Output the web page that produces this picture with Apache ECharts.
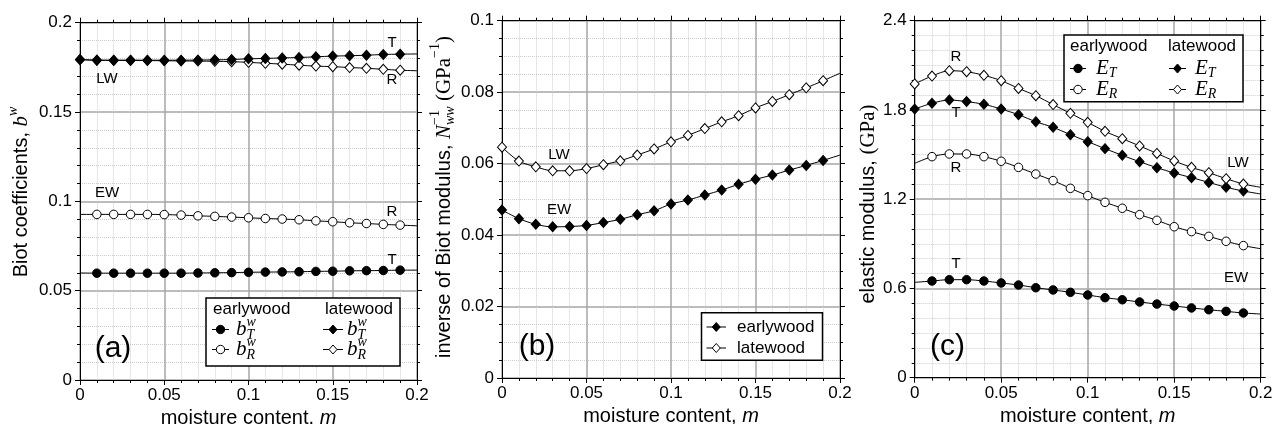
<!DOCTYPE html>
<html><head><meta charset="utf-8">
<script src="https://cdn.jsdelivr.net/npm/echarts@6/dist/echarts.min.js"></script>
<style>html,body{margin:0;padding:0;background:#fff}#c{width:1272px;height:424px}</style>
</head><body><div id="c"></div>
<script>
// ---------- data ----------
const moisture = [0,0.01,0.02,0.03,0.04,0.05,0.06,0.07,0.08,0.09,0.1,0.11,0.12,0.13,0.14,0.15,0.16,0.17,0.18,0.19,0.2];

// (a) Biot coefficients
const aEW_T = [0.0599,0.0598,0.0598,0.0598,0.0598,0.0598,0.0598,0.0599,0.0600,0.0601,0.0603,0.0604,0.0605,0.0606,0.0608,0.0609,0.0611,0.0612,0.0613,0.0615,0.0615];
const aEW_R = [0.0927,0.0927,0.0927,0.0927,0.0927,0.0926,0.0923,0.0919,0.0916,0.0912,0.0908,0.0904,0.0901,0.0897,0.0891,0.0886,0.0880,0.0876,0.0871,0.0867,0.0863];
const aLW_T = [0.1794,0.1790,0.1790,0.1790,0.1790,0.1790,0.1790,0.1791,0.1792,0.1794,0.1798,0.1800,0.1803,0.1805,0.1809,0.1813,0.1815,0.1818,0.1822,0.1824,0.1825];
const aLW_R = [0.1793,0.1790,0.1789,0.1789,0.1788,0.1787,0.1786,0.1785,0.1784,0.1782,0.1778,0.1773,0.1768,0.1762,0.1757,0.1754,0.1749,0.1745,0.1739,0.1734,0.1731];

// (b) inverse of Biot modulus
const bEW = [0.0470,0.0446,0.0430,0.0423,0.0424,0.0427,0.0435,0.0444,0.0457,0.0468,0.0487,0.0498,0.0512,0.0526,0.0542,0.0556,0.0568,0.0582,0.0595,0.0609,0.0624];
const bLW = [0.0646,0.0607,0.0591,0.0580,0.0580,0.0586,0.0597,0.0608,0.0624,0.0641,0.0661,0.0679,0.0698,0.0717,0.0734,0.0756,0.0774,0.0793,0.0812,0.0832,0.0853];

// (c) elastic modulus (GPa)
const cEW_T = [0.641,0.650,0.659,0.659,0.650,0.637,0.623,0.605,0.590,0.574,0.556,0.538,0.524,0.509,0.495,0.482,0.469,0.457,0.446,0.435,0.428];
const cEW_R = [1.441,1.486,1.504,1.504,1.486,1.455,1.414,1.369,1.325,1.273,1.224,1.179,1.139,1.096,1.058,1.015,0.982,0.950,0.917,0.888,0.867];
const cLW_T = [1.806,1.845,1.867,1.856,1.838,1.806,1.768,1.721,1.683,1.634,1.587,1.540,1.495,1.452,1.412,1.376,1.345,1.313,1.280,1.255,1.235];
const cLW_R = [1.975,2.028,2.064,2.057,2.033,1.997,1.945,1.896,1.836,1.777,1.717,1.656,1.607,1.558,1.508,1.457,1.414,1.378,1.338,1.302,1.280];

// tick labels
const xTickLabels = ['0','0.05','0.1','0.15','0.2'];
const yTickLabelsA = ['0','0.05','0.1','0.15','0.2'];
const yTickLabelsB = ['0','0.02','0.04','0.06','0.08','0.1'];
const yTickLabelsC = ['0','0.6','1.2','1.8','2.4'];

// ---------- layout / style ----------
const SANS = 'Liberation Sans', SERIF = 'Liberation Serif';
const grids = [
  {left:80, top:22.7, width:337, height:357.3},
  {left:502, top:20.7, width:338, height:357.3},
  {left:914.7, top:20.7, width:346, height:357}
];
const yCfg = [
  {min:0, max:0.2, interval:0.05, minor:5, labels:yTickLabelsA},
  {min:0, max:0.1, interval:0.02, minor:4, labels:yTickLabelsB},
  {min:0, max:2.4, interval:0.6, minor:6, labels:yTickLabelsC}
];

const ctx = document.createElement('canvas').getContext('2d');
function fontStr(it){ return (it.it?'italic ':'') + it.size + 'px "' + it.fam + '"'; }
function tw(it){ ctx.font = fontStr(it); return ctx.measureText(it.t).width; }

function txtEl(t, x, y, size, o) {
  o = o || {};
  return {type:'text', x:x, y:y, z:60, silent:true, style:{
    text:t, fontSize:size, fontFamily:o.fam||SANS, fontStyle:o.it?'italic':'normal', fontWeight:'normal',
    fill:'#000', textAlign:o.align||'center', textVerticalAlign:'middle'}};
}
// math-like text composed from parts; an array part = stacked scripts
function mathGroup(parts, x, y, rot, anchor) {
  let cx = 0; const kids = [];
  parts.forEach(p => {
    const items = Array.isArray(p) ? p : [p];
    let adv = 0;
    items.forEach(it => {
      kids.push(txtEl(it.t, cx, it.dy||0, it.size, {fam:it.fam, it:it.it, align:'left'}));
      adv = Math.max(adv, tw(it));
    });
    cx += adv;
  });
  const shift = anchor === 'center' ? -cx/2 : 0;
  kids.forEach(k => { k.x += shift; });
  return {type:'group', x:x, y:y, rotation:rot||0, z:60, children:kids};
}

const MAJOR = {show:true, lineStyle:{color:'#a6a6a6', width:1.5}};
const MINOR = {show:true, lineStyle:{color:'#cdcdcd', width:1, type:[1,1]}};

function xAxes(g) {
  const base = {type:'value', gridIndex:g, min:0, max:0.2, interval:0.05,
    axisLine:{show:true, onZero:false, lineStyle:{color:'#000', width:1}},
    axisTick:{show:true, inside:false, length:5, lineStyle:{color:'#000', width:1}},
    minorTick:{show:true, splitNumber:5, length:3, lineStyle:{color:'#000', width:1}}};
  return [
    Object.assign({}, base, {position:'bottom',
      axisLabel:{show:true, margin:7, fontSize:17, fontFamily:SANS, color:'#000',
        formatter:v => xTickLabels[Math.round(v/0.05)]},
      splitLine:MAJOR, minorSplitLine:MINOR,
      name:'moisture content, {i|m}', nameLocation:'middle', nameGap:23,
      nameTextStyle:{fontSize:20, fontFamily:SANS, color:'#000', verticalAlign:'top',
        rich:{i:{fontSize:20, fontFamily:SANS, fontStyle:'italic', color:'#000'}}}}),
    Object.assign({}, base, {position:'top', axisLabel:{show:false},
      splitLine:{show:false}, minorSplitLine:{show:false}})
  ];
}
function yAxes(g) {
  const c = yCfg[g];
  const base = {type:'value', gridIndex:g, min:c.min, max:c.max, interval:c.interval,
    axisLine:{show:true, onZero:false, lineStyle:{color:'#000', width:1}},
    axisTick:{show:true, inside:false, length:5, lineStyle:{color:'#000', width:1}},
    minorTick:{show:true, splitNumber:c.minor, length:3, lineStyle:{color:'#000', width:1}}};
  return [
    Object.assign({}, base, {position:'left',
      axisLabel:{show:true, margin:8, fontSize:17, fontFamily:SANS, color:'#000',
        formatter:v => c.labels[Math.round((v-c.min)/c.interval)]},
      splitLine:MAJOR, minorSplitLine:MINOR}),
    Object.assign({}, base, {position:'right', axisLabel:{show:false},
      splitLine:{show:false}, minorSplitLine:{show:false}})
  ];
}

function ser(g, name, arr, sym, fill, firstMarker, z) {
  return {type:'line', name:name, xAxisIndex:2*g, yAxisIndex:2*g, z:z,
    data: moisture.map((x,i) => ({value:[x, arr[i]], symbol:(i>=firstMarker && i<=19) ? sym : 'none'})),
    symbol:sym, symbolSize: sym==='diamond' ? [9,10] : 8.5, showAllSymbol:true, showSymbol:true,
    smooth:0.3, lineStyle:{color:'#000', width:1},
    itemStyle:{color:fill, borderColor:'#000', borderWidth:1, opacity:1},
    emphasis:{disabled:true}, silent:true, animation:false};
}

const series = [
  ser(0,'aEW_R',aEW_R,'circle','#fff',1,3),
  ser(0,'aEW_T',aEW_T,'circle','#000',1,3),
  ser(0,'aLW_R',aLW_R,'diamond','#fff',0,3),
  ser(0,'aLW_T',aLW_T,'diamond','#000',0,4),
  ser(1,'bEW',bEW,'diamond','#000',0,3),
  ser(1,'bLW',bLW,'diamond','#fff',0,3),
  ser(2,'cEW_T',cEW_T,'circle','#000',1,3),
  ser(2,'cEW_R',cEW_R,'circle','#fff',1,3),
  ser(2,'cLW_T',cLW_T,'diamond','#000',0,3),
  ser(2,'cLW_R',cLW_R,'diamond','#fff',0,3)
];

// ---------- graphic (titles, legends, annotations) ----------
const G = [];
const ROT = Math.PI/2;
// y-axis titles
G.push(mathGroup([
  {t:'Biot coefficients, ', size:20, fam:SANS},
  {t:'b', size:21, fam:SERIF, it:true},
  {t:'w', size:14, fam:SERIF, it:true, dy:-8}
], 21, 192, ROT, 'center'));
G.push(mathGroup([
  {t:'inverse of Biot modulus, ', size:20, fam:SANS},
  {t:'N', size:21, fam:SERIF, it:true},
  [{t:'ww', size:14, fam:SERIF, it:true, dy:6}, {t:'\u22121', size:14, fam:SERIF, dy:-9}],
  {t:' (GPa', size:21, fam:SERIF},
  {t:'\u22121', size:14, fam:SERIF, dy:-9},
  {t:')', size:21, fam:SERIF}
], 444, 197, ROT, 'center'));
G.push(mathGroup([
  {t:'elastic modulus, ', size:20, fam:SANS},
  {t:'(GPa)', size:21, fam:SERIF}
], 868, 204, ROT, 'center'));

// panel letters
G.push(txtEl('(a)', 113, 349, 30));
G.push(txtEl('(b)', 537, 347, 30));
G.push(txtEl('(c)', 947.5, 347, 30));

// curve annotations
[['LW',107,79],['T',392,43],['R',392,80],['EW',107,193],['R',392,212],['T',392,260],
 ['LW',559,155],['EW',559,210],
 ['R',956,57],['T',956,113],['R',956,168],['LW',1238,163],['T',956,264],['EW',1236,278]
].forEach(a => G.push(txtEl(a[0], a[1], a[2], 15)));

// legend helpers
function legSym(x0, x1, y, sym, fill) {
  const cx = (x0+x1)/2;
  const out = [{type:'line', z:60, silent:true, shape:{x1:x0, y1:y, x2:x1, y2:y}, style:{stroke:'#000', lineWidth:1}}];
  if (sym === 'circle') out.push({type:'circle', z:61, silent:true, shape:{cx:cx, cy:y, r:4.2}, style:{fill:fill, stroke:'#000', lineWidth:1}});
  else out.push({type:'polygon', z:61, silent:true, shape:{points:[[cx,y-4.5],[cx+4,y],[cx,y+4.5],[cx-4,y]]}, style:{fill:fill, stroke:'#000', lineWidth:1}});
  return out;
}
function box(x, y, w, h) {
  return {type:'rect', z:55, silent:true, shape:{x:x, y:y, width:w, height:h}, style:{fill:'#fff', stroke:'#000', lineWidth:1.5}};
}
function bw(sub) {
  return [{t:'b', size:21, fam:SERIF, it:true},
          [{t:'w', size:14, fam:SERIF, it:true, dy:-7}, {t:sub, size:14, fam:SERIF, it:true, dy:6}]];
}
function E(sub) {
  return [{t:'E', size:21, fam:SERIF, it:true}, {t:sub, size:14, fam:SERIF, it:true, dy:5}];
}

// legend (a)
G.push(box(206, 298, 194, 68));
G.push(txtEl('earlywood', 213, 309, 17, {align:'left'}));
G.push(txtEl('latewood', 325, 309, 17, {align:'left'}));
G.push(...legSym(212, 229, 329.5, 'circle', '#000'));
G.push(...legSym(212, 229, 349.5, 'circle', '#fff'));
G.push(...legSym(323, 343, 329.5, 'diamond', '#000'));
G.push(...legSym(323, 343, 349.5, 'diamond', '#fff'));
G.push(mathGroup(bw('T'), 236, 329.5, 0, 'left'));
G.push(mathGroup(bw('R'), 236, 349.5, 0, 'left'));
G.push(mathGroup(bw('T'), 347, 329.5, 0, 'left'));
G.push(mathGroup(bw('R'), 347, 349.5, 0, 'left'));

// legend (b)
G.push(box(701.5, 312.7, 121, 47.6));
G.push(...legSym(706.5, 726, 327, 'diamond', '#000'));
G.push(...legSym(706.5, 726, 348, 'diamond', '#fff'));
G.push(txtEl('earlywood', 737, 327, 17, {align:'left'}));
G.push(txtEl('latewood', 737, 348, 17, {align:'left'}));

// legend (c)
G.push(box(1064, 35, 179, 66.7));
G.push(txtEl('earlywood', 1070, 46, 17, {align:'left'}));
G.push(txtEl('latewood', 1168, 46, 17, {align:'left'}));
G.push(...legSym(1070, 1086, 68.5, 'circle', '#000'));
G.push(...legSym(1070, 1086, 89.5, 'circle', '#fff'));
G.push(...legSym(1169, 1186, 68.5, 'diamond', '#000'));
G.push(...legSym(1169, 1186, 89.5, 'diamond', '#fff'));
G.push(mathGroup(E('T'), 1096, 68.5, 0, 'left'));
G.push(mathGroup(E('R'), 1096, 89.5, 0, 'left'));
G.push(mathGroup(E('T'), 1195, 68.5, 0, 'left'));
G.push(mathGroup(E('R'), 1195, 89.5, 0, 'left'));

const chart = echarts.init(document.getElementById('c'), null, {renderer:'canvas'});
chart.setOption({
  animation:false,
  backgroundColor:'#fff',
  grid: grids.map(g => Object.assign({containLabel:false, outerBoundsMode:'none'}, g)),
  xAxis: [].concat(xAxes(0), xAxes(1), xAxes(2)),
  yAxis: [].concat(yAxes(0), yAxes(1), yAxes(2)),
  series: series,
  graphic: G
});
</script>
</body></html>
